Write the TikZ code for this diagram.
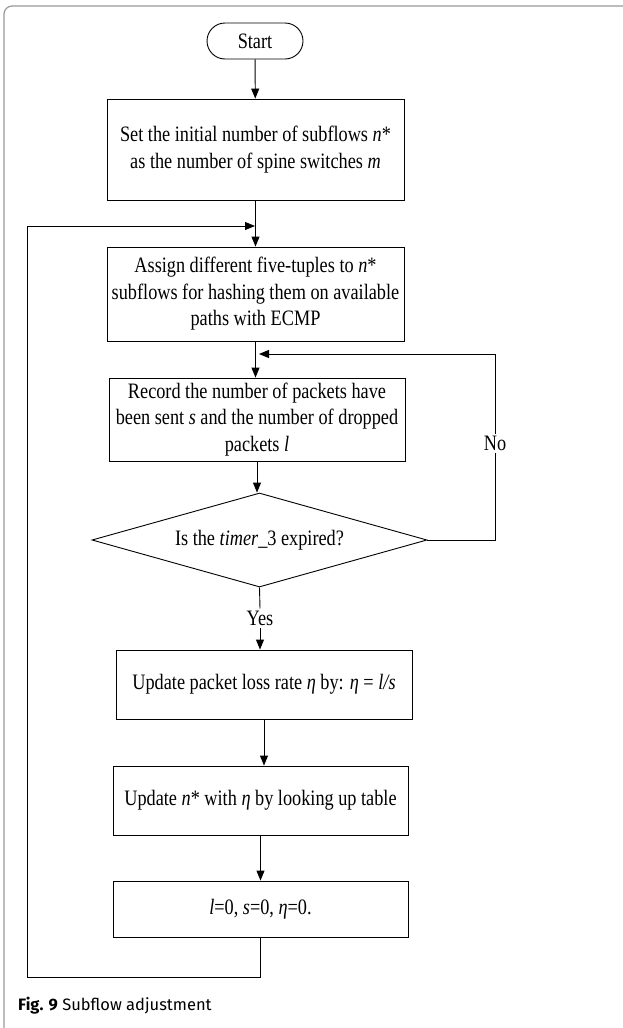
\documentclass[tikz,border=0pt]{standalone}
\usepackage{fontspec}
\setmainfont{Liberation Serif}[FakeStretch=0.83]
\newfontfamily\capfont{Fira Sans}
\usetikzlibrary{arrows, arrows.meta, shapes.geometric}

\tikzset{
  box/.style={draw, rectangle, line width=0.9bp, align=center, inner sep=0pt,
    font=\fontsize{22bp}{26.5bp}\selectfont},
  startbox/.style={box, rounded corners=18bp, minimum width=96bp, minimum height=36bp},
  decide/.style={draw, diamond, aspect=3.56, line width=0.9bp, inner sep=0pt,
    minimum width=335bp, minimum height=94bp, font=\fontsize{22bp}{26.5bp}\selectfont},
  flow/.style={line width=0.9bp, -{Triangle[length=10bp,width=8bp]}},
  plain/.style={line width=0.9bp},
  lbl/.style={inner sep=2bp, font=\fontsize{22bp}{26.5bp}\selectfont}
}

\begin{document}
\begin{tikzpicture}[x=1bp, y=-1bp]
\useasboundingbox (0,0) rectangle (623,1028);
\clip (0,0) rectangle (623,1028);
%\draw[step=50,gray,very thin] (0,0) grid (623,1028); %background grid
\draw[gray!80, line width=1.2bp, rounded corners=8bp] (4,6) rectangle (660,1040);

\node[startbox] (start) at (255,41) {Start};
\node[box, minimum width=297bp, minimum height=101bp] (init) at (255.5,149.5)
  {Set the initial number of subflows \textit{n}*\\as the number of spine switches \textit{m}};
\node[box, minimum width=297bp, minimum height=94bp] (assign) at (255.5,294)
  {Assign different five-tuples to \textit{n}*\\subflows for hashing them on available\\paths with ECMP};
\node[box, minimum width=296bp, minimum height=83bp] (record) at (257,419.5)
  {Record the number of packets have\\been sent \textit{s} and the number of dropped\\packets \textit{l}};
\node[decide] (timer) at (259.5,540) {Is the \textit{timer}\_3 expired?};
\node[lbl] (yes) at (260,618) {Yes};
\node[box, minimum width=296bp, minimum height=69bp] (loss) at (264,684.5)
  {Update packet loss rate \textit{η} by: \textit{η} = \textit{l/s}};
\node[box, minimum width=295bp, minimum height=69bp] (lookup) at (260.5,800.5)
  {Update \textit{n}* with \textit{η} by looking up table};
\node[box, minimum width=295bp, minimum height=56bp] (reset) at (260.5,909)
  {\textit{l}=0, \textit{s}=0, \textit{η}=0.};

\coordinate (backin) at (255,226);
\coordinate (backL) at (27,226);
\coordinate (backB) at (27,977);
\coordinate (noR) at (495,354);
\coordinate (noin) at (259,354);

\draw[flow] (start) -- (init);
\draw[flow] (init.south) -- (init.south |- assign.north);
\draw[flow] (assign.south) -- (assign.south |- record.north);
\draw[flow] (record.south) -- (record.south |- timer.north);
\draw[plain] (timer.south) -- (yes.north);
\draw[flow] (yes.south) -- (yes.south |- loss.north);
\draw[flow] (loss.south) -- (loss.south |- lookup.north);
\draw[flow] (lookup.south) -- (lookup.south |- reset.north);

% back loops
\draw[flow] (timer.east) -| node[lbl, fill=white, pos=0.76] (no) {No} (noR) -- (noin);
\draw[flow] (reset.south) |- (backB) -- (backL) -- (backin);

\node[anchor=base west, inner sep=0pt, font=\capfont\fontsize{16.5bp}{20bp}\selectfont] (cap) at (18,1010)
  {\textbf{Fig. 9} Subflow adjustment};

\end{tikzpicture}
\end{document}
